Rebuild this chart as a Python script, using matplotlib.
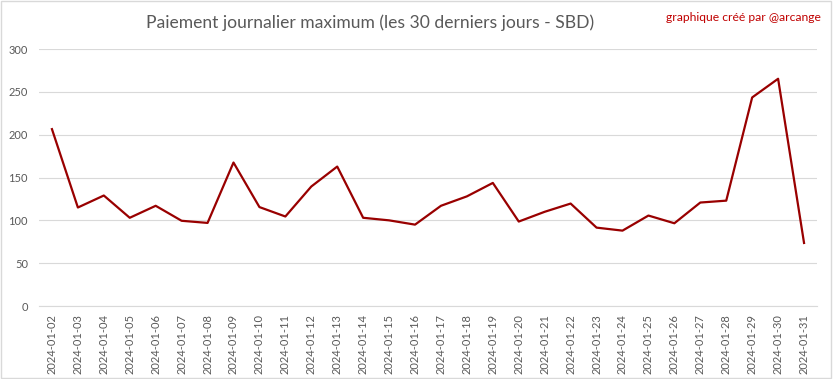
import matplotlib
matplotlib.use('Agg')
import matplotlib.pyplot as plt
from matplotlib.patches import Rectangle

# daily max payout (SBD)
dates = ['2024-01-%02d' % d for d in range(2, 32)]
payout = [206.5, 115, 129, 103, 117, 99.5, 97, 167.5, 115.5, 104.5,
          139.5, 162.8, 103, 100, 95, 117, 128, 143.7, 98.6, 110,
          119.6, 91.5, 88, 105.6, 96.6, 120.8, 123, 243.5, 265.3, 73.6]

plt.rcParams['font.family'] = ['Lato', 'DejaVu Sans']

fig = plt.figure(figsize=(8.33, 3.79), dpi=100)
ax = fig.add_axes([0.0468, 0.1926, 0.934, 0.678])

x = range(len(dates))
ax.plot(x, payout, color='#990000', linewidth=1.6)

ax.set_xlim(-0.5, len(dates) - 0.5)
ax.set_ylim(0, 300)
ax.set_yticks(range(0, 301, 50))
ax.set_xticks(list(x))
ax.set_xticklabels(dates, rotation=90)
ax.tick_params(length=0, colors='#595959', labelsize=8)
ax.tick_params(axis='x', pad=6)
ax.tick_params(axis='y', pad=8)
ax.grid(axis='y', color='#D9D9D9', linewidth=0.8)
ax.set_axisbelow(True)
for s in ['top', 'right', 'left']:
    ax.spines[s].set_visible(False)
ax.spines['bottom'].set_color('#D9D9D9')

fig.text(0.444, 0.94, 'Paiement journalier maximum (les 30 derniers jours - SBD)',
         ha='center', va='center', fontsize=12.6, color='#595959')
fig.text(0.985, 0.955, 'graphique créé par @arcange',
         ha='right', va='center', fontsize=8.7, color='#C00000')

fig.patches.append(Rectangle((0.001, 0.002), 0.997, 0.995, transform=fig.transFigure,
                             fill=False, edgecolor='#D9D9D9', linewidth=1))

fig.savefig('out.png', dpi=100)
